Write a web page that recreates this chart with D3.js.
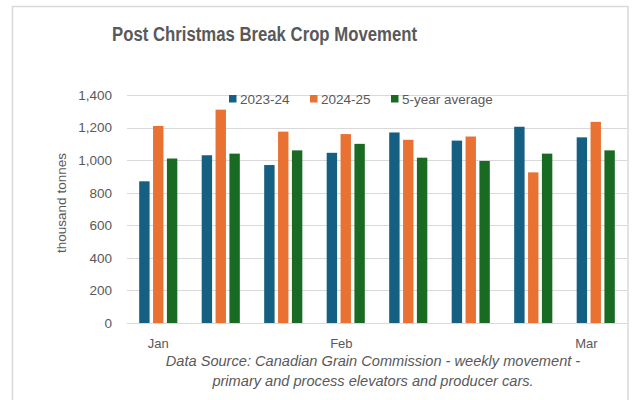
<!DOCTYPE html>
<html>
<head>
<meta charset="utf-8">
<script src="https://cdn.jsdelivr.net/npm/d3@7"></script>
<style>
  body { margin: 0; background: #fff; }
  text { font-family: "Liberation Sans", Arial, sans-serif; fill: #595959; }
</style>
</head>
<body>
<div id="chart"></div>
<script>
// weekly movement, thousand tonnes
var weeks = ["w1", "w2", "w3", "w4", "w5", "w6", "w7", "w8"];
var series = ["2023-24", "2024-25", "5-year average"];
var vals2324 = [870, 1030, 970, 1045, 1170, 1120, 1205, 1140];
var vals2425 = [1210, 1310, 1175, 1160, 1125, 1145, 925, 1235];
var valsAvg = [1010, 1040, 1060, 1100, 1015, 995, 1040, 1060];
var yTicks = [0, 200, 400, 600, 800, 1000, 1200, 1400];
// month labels sit between weeks (position in week index)
var monthLabels = ["Jan", "Feb", "Mar"];
var monthPos = [0, 2.93, 6.85];

var colors = ["#156082", "#e97132", "#196b24"];
var width = 633, height = 400;
var margin = {top: 95, right: 6, bottom: 77, left: 127};
var w = width - margin.left - margin.right;
var h = height - margin.top - margin.bottom;

var data = weeks.map(function(d, i) {
    return {week: d, values: [vals2324[i], vals2425[i], valsAvg[i]]};
});

var svg = d3.select("#chart").append("svg")
    .attr("width", width)
    .attr("height", height);

// outer frame (cut off at bottom like the screenshot)
svg.append("rect")
    .attr("x", 12.5).attr("y", 6.5)
    .attr("width", 615.5).attr("height", 420)
    .attr("fill", "none")
    .attr("stroke", "#d9d9d9")
    .attr("stroke-width", 1.5);

// title is a narrow face in the original, squeeze it
svg.append("text")
    .attr("x", 112)
    .attr("y", 41)
    .attr("textLength", 305)
    .attr("lengthAdjust", "spacingAndGlyphs")
    .style("font-weight", "bold")
    .style("font-size", "20px")
    .text("Post Christmas Break Crop Movement");

var g = svg.append("g")
    .attr("transform", "translate(" + margin.left + "," + margin.top + ")");

var x0 = d3.scaleBand().domain(weeks).range([0, w]).paddingInner(0.39).paddingOuter(0.195);
var x1 = d3.scaleBand().domain(series).range([0, x0.bandwidth()]).paddingInner(0.25);
var y = d3.scaleLinear().domain([0, 1400]).range([h, 0]);

// gridlines
g.append("g")
    .selectAll("line")
    .data(yTicks)
    .enter().append("line")
    .attr("x1", 0).attr("x2", w)
    .attr("y1", function(d) { return Math.round(y(d)) + 0.5; })
    .attr("y2", function(d) { return Math.round(y(d)) + 0.5; })
    .attr("stroke", "#d9d9d9")
    .attr("stroke-width", 1);

// y axis labels
var yAxis = g.append("g")
    .call(d3.axisLeft(y).tickValues(yTicks).tickSize(0).tickPadding(15).tickFormat(d3.format(",")));
yAxis.select(".domain").remove();
yAxis.selectAll("text")
    .style("font-size", "13.5px")
    .attr("fill", "#595959");

svg.append("text")
    .attr("transform", "translate(66," + (margin.top + h / 2 - 6) + ") rotate(-90)")
    .attr("text-anchor", "middle")
    .style("font-size", "13.5px")
    .text("thousand tonnes");

// bars
var groups = g.selectAll(".grp")
    .data(data)
    .enter().append("g")
    .attr("class", "grp")
    .attr("transform", function(d) { return "translate(" + x0(d.week) + ",0)"; });

groups.selectAll("rect")
    .data(function(d) { return d.values.map(function(v, i) { return {key: series[i], value: v, i: i}; }); })
    .enter().append("rect")
    .attr("x", function(d) { return x1(d.key); })
    .attr("width", x1.bandwidth())
    .attr("y", function(d) { return y(d.value); })
    .attr("height", function(d) { return h - y(d.value); })
    .attr("fill", function(d) { return colors[d.i]; });

// month labels on x axis
var xIdx = d3.scaleLinear()
    .domain([0, weeks.length - 1])
    .range([x0(weeks[0]) + x0.bandwidth() / 2, x0(weeks[weeks.length - 1]) + x0.bandwidth() / 2]);

g.selectAll(".month")
    .data(monthLabels)
    .enter().append("text")
    .attr("class", "month")
    .attr("x", function(d, i) { return xIdx(monthPos[i]); })
    .attr("y", h + 25)
    .attr("text-anchor", "middle")
    .style("font-size", "13px")
    .text(function(d) { return d; });

// legend
var legendX = [229, 310, 391];
var legend = svg.append("g");
series.forEach(function(s, i) {
    legend.append("rect")
        .attr("x", legendX[i]).attr("y", 95)
        .attr("width", 7.5).attr("height", 7.5)
        .attr("fill", colors[i]);
    legend.append("text")
        .attr("x", legendX[i] + 11)
        .attr("y", 104)
        .style("font-size", "13.5px")
        .text(s);
});

// source note
var note = svg.append("text")
    .attr("text-anchor", "middle")
    .style("font-style", "italic")
    .style("font-size", "14.6px");
note.append("tspan").attr("x", 373).attr("y", 366)
    .text("Data Source: Canadian Grain Commission - weekly movement -");
note.append("tspan").attr("x", 373).attr("y", 386)
    .text("primary and process elevators and producer cars.");
</script>
</body>
</html>
